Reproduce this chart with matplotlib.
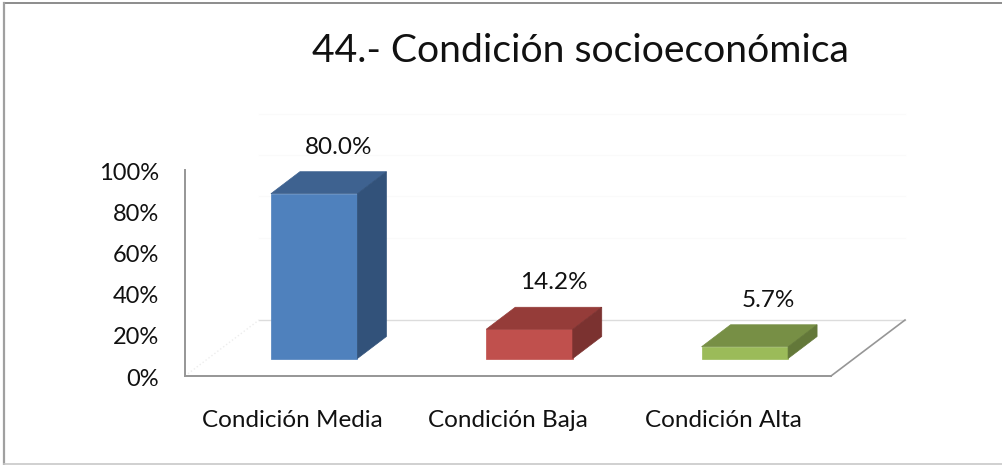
import matplotlib
matplotlib.use("Agg")
import matplotlib.pyplot as plt
from matplotlib.lines import Line2D
from matplotlib.patches import Polygon
from matplotlib.transforms import ScaledTranslation

categories = ["Condición Media", "Condición Baja", "Condición Alta"]
values = [80.0, 14.2, 5.7]
value_labels = ["80.0%", "14.2%", "5.7%"]
y_ticks = [0, 20, 40, 60, 80, 100]
y_tick_labels = ["0%", "20%", "40%", "60%", "80%", "100%"]
title = "44.- Condición socioeconómica"
front_colors = ["#4F81BD", "#C0504D", "#9BBB59"]
top_colors = ["#3E6290", "#953C39", "#778F45"]
side_colors = ["#32527A", "#7B3230", "#637839"]

W, H = 1003, 465
plt.rcParams["font.family"] = ["Lato", "DejaVu Sans"]
fig = plt.figure(figsize=(W / 100, H / 100), dpi=100, facecolor="white")

# outer frame: heavier on top and left, pale at the bottom, open at the right
def frame(x0, y0, x1, y1, color, lw):
    fig.add_artist(Line2D([x0 / W, x1 / W], [1 - y0 / H, 1 - y1 / H], transform=fig.transFigure,
                          color=color, lw=lw))
frame(4, 3.5, 1003, 3.5, "#8C8C8C", 1.4)
frame(4, 3, 4, 465, "#A0A0A0", 1.6)
frame(4, 464, 1003, 464, "#C8C8C8", 1.2)

# axes frame in pixels: left wall x=185, floor y=376, top y=170
L, R, B, T = 185, 831, 376, 170
ax = fig.add_axes([L / W, 1 - B / H, (R - L) / W, (B - T) / H])
ax.set_xlim(-0.5, 2.5)
ax.set_ylim(0, 100)
ax.set_facecolor("none")
for s in ("top", "right"):
    ax.spines[s].set_visible(False)
for s in ("left", "bottom"):
    ax.spines[s].set_color("#969696")
    ax.spines[s].set_linewidth(1.4)
ax.set_xticks(range(len(categories)), categories)
ax.set_yticks(y_ticks, y_tick_labels)
ax.tick_params(length=0, labelsize=17.5, labelcolor="#111111")
ax.tick_params(axis="x", pad=24.5)
ax.tick_params(axis="y", pad=18.5, labelsize=17)
for lab in ax.get_yticklabels():
    lab.set_transform(lab.get_transform() + ScaledTranslation(0, -1 / 100, fig.dpi_scale_trans))

DX, DY = 29, 22            # bar depth in pixels
BASE_DX, BASE_DY = 21.5, 17.5  # bar base offset from the front floor edge
BW = 86.5                  # bar width in pixels
FLOOR_DX, FLOOR_DY = 74, 56    # floor depth in pixels

axT = ax.transAxes
back = axT + ScaledTranslation(FLOOR_DX / 100, FLOOR_DY / 100, fig.dpi_scale_trans)
ax.plot([0, 1], [0, 0], transform=back, color="#DCDCDC", lw=1, clip_on=False, zorder=1)
for v in y_ticks[2:]:
    ax.plot([0, 1], [v / 100, v / 100], transform=back, color="#FAFAFA", lw=1, clip_on=False, zorder=1)
ax.plot([1, 1 + FLOOR_DX / (R - L)], [0, FLOOR_DY / (B - T)], transform=axT, color="#969696", lw=1.2,
        clip_on=False, zorder=1)
ax.plot([0, FLOOR_DX / (R - L)], [0, FLOOR_DY / (B - T)], transform=axT, color="#EDEDED", lw=1,
        ls=":", clip_on=False, zorder=1)

inv = ax.transData.inverted()
for i, v in enumerate(values):
    def P(sx, top, d):
        return ax.transData.transform((i, v if top else 0)) + (
            sx * BW / 2 + BASE_DX + d * DX, BASE_DY + d * DY)

    def poly(points, c):
        ax.add_patch(Polygon(inv.transform(points), closed=True, fc=c, ec=c, lw=0.5, zorder=3, clip_on=False))

    poly([P(-1, 0, 0), P(1, 0, 0), P(1, 1, 0), P(-1, 1, 0)], front_colors[i])
    poly([P(-1, 1, 0), P(1, 1, 0), P(1, 1, 1), P(-1, 1, 1)], top_colors[i])
    poly([P(1, 0, 0), P(1, 0, 1), P(1, 1, 1), P(1, 1, 0)], side_colors[i])
    xd, yd = inv.transform(P(0, 1, 1))
    ax.annotate(value_labels[i], (xd, yd), xytext=(-5, 14), textcoords="offset pixels", ha="center",
                va="bottom", fontsize=17.5, color="#111111", zorder=4, annotation_clip=False)

fig.text(580.5 / W, 1 - 51 / H, title, ha="center", va="center", fontsize=28.2, color="#111111")
fig.savefig("out.png", dpi=100)
